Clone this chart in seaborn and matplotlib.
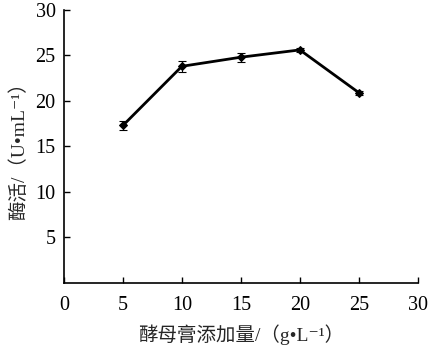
import matplotlib
matplotlib.use("Agg")
import matplotlib.pyplot as plt
import seaborn as sns
import pandas as pd

x_vals = [5, 10, 15, 20, 25]
activity = [17.3, 23.8, 24.8, 25.6, 20.9]
errors = [0.5, 0.6, 0.5, 0.2, 0.2]
x_ticks = [0, 5, 10, 15, 20, 25, 30]
y_ticks = [5, 10, 15, 20, 25, 30]
xlabel = "酵母膏添加量/（g•L⁻¹）"
ylabel = "酶活/（U•mL⁻¹）"

sns.set_style("ticks")
fam = ['Liberation Serif', 'Noto Sans CJK SC', 'DejaVu Serif']
plt.rcParams['font.family'] = fam

df = pd.DataFrame({"x": x_vals, "y": activity})

fig = plt.figure(figsize=(4.29, 3.52), dpi=100)
ax = fig.add_axes([0.149, 0.196, 0.825, 0.776])
sns.lineplot(data=df, x="x", y="y", ax=ax, color="black", linewidth=2,
             marker="D", markersize=4, markeredgecolor="black")
ax.errorbar(x_vals, activity, yerr=errors, fmt="none", ecolor="black",
            elinewidth=0.8, capsize=3, capthick=0.8)

ax.set_xlim(0, 30)
ax.set_ylim(0, 30)
ax.set_xticks(x_ticks)
ax.set_yticks(y_ticks)
ax.tick_params(direction="in", length=4, width=1, labelsize=14.5, colors="black")
ax.tick_params(axis="x", pad=9)
ax.tick_params(axis="y", pad=6)
for s in ["top", "right"]:
    ax.spines[s].set_visible(False)
for s in ["left", "bottom"]:
    ax.spines[s].set_linewidth(1.2)
    ax.spines[s].set_color("black")
ax.set_xlabel(xlabel, fontsize=14, labelpad=7, family=fam)
ax.set_ylabel(ylabel, fontsize=14, labelpad=5, family=fam)
fig.savefig("out.png", dpi=100)
